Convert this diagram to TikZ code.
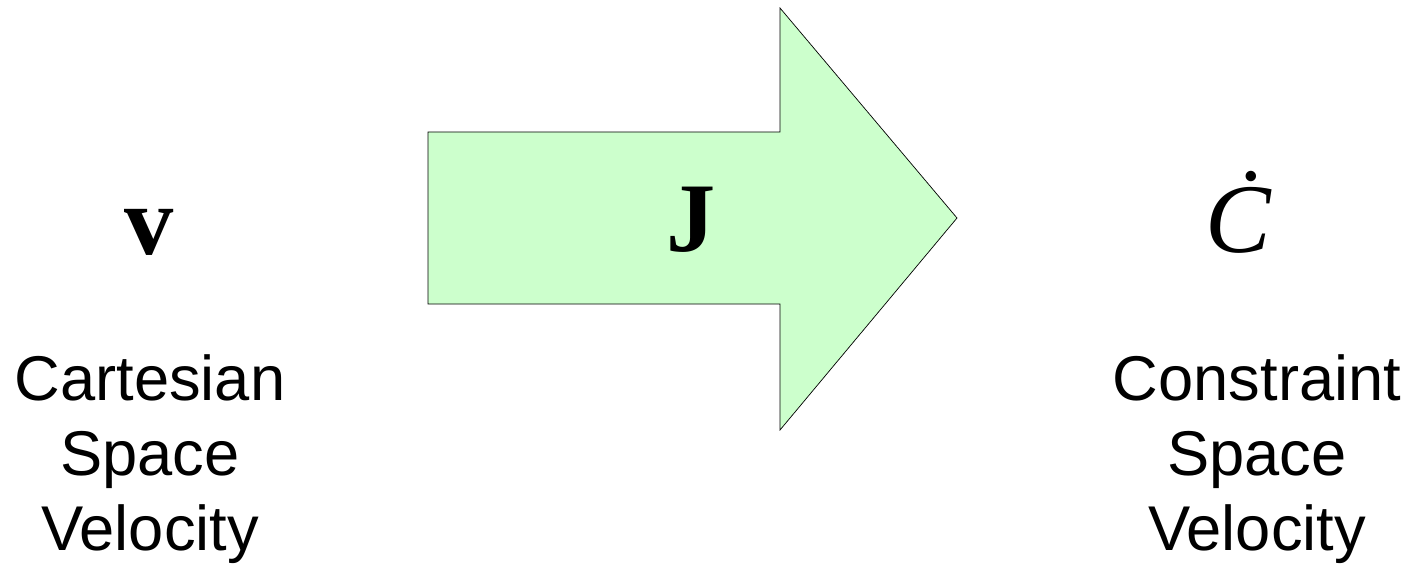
\documentclass[tikz,border=0pt]{standalone}
\usepackage{fontspec}
\setmainfont{Liberation Serif}
\newfontfamily\labelfont{Liberation Sans}
\definecolor{arrowgreen}{RGB}{204,255,204}
\tikzset{
  sym/.style = {inner sep = 0, anchor = base, font = \fontsize{56}{60}\selectfont},
  lbl/.style = {inner sep = 0, anchor = base, font = \labelfont\fontsize{36}{42}\selectfont}
}
\begin{document}
\begin{tikzpicture}[x = 0.02cm, y = -0.02cm]
\useasboundingbox (0,0) rectangle (1419,564);
% big arrow
\draw[fill = arrowgreen, line join = miter] (428,132) -- (780,132) -- (780,8) -- (957,218)
  -- (780,430) -- (780,304) -- (428,304) -- cycle;
% symbols
\node[sym] (v) at (149,255) {\textbf{v}};
\node[sym] (J) at (691,252) {\textbf{J}};
\node[sym] (Cdot) at (1239,253) {\textit{\.{C}}};
% labels
\foreach \txt / \y [count = \i] in {Cartesian/400, Space/475, Velocity/550}
  \node[lbl] (left\i) at (150,\y) {\txt};
\foreach \txt / \y [count = \i] in {Constraint/400, Space/475, Velocity/550}
  \node[lbl] (right\i) at (1257,\y) {\txt};
\end{tikzpicture}
\end{document}
